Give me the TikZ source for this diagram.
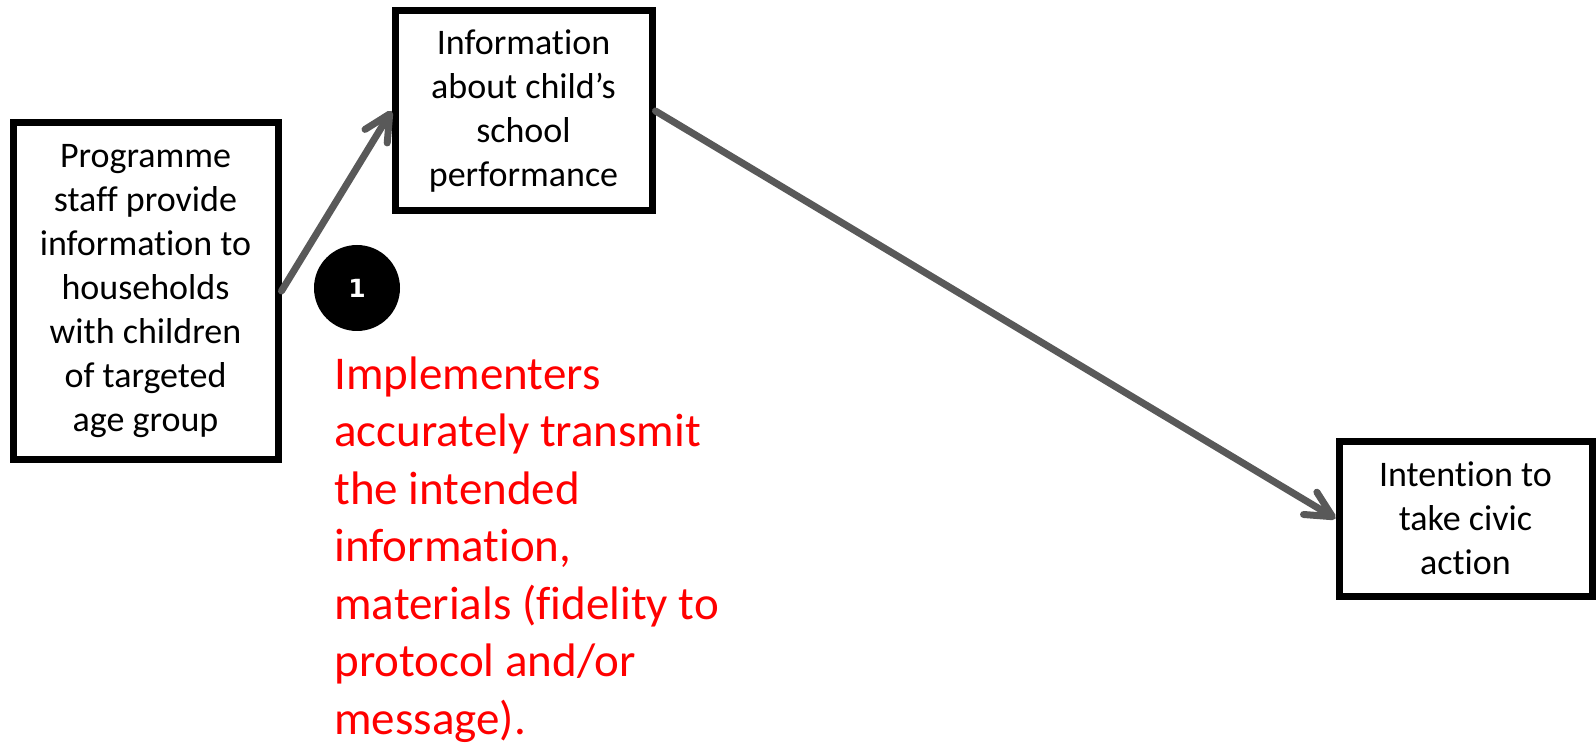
\documentclass[tikz,border=0pt]{standalone}
\usepackage{fontspec}
\setmainfont{Carlito}[Ligatures={NoCommon,NoRequired,NoContextual}]
\newfontfamily\numfont{DejaVu Sans}
\usetikzlibrary{arrows.meta}
\definecolor{arrowgray}{HTML}{595959}

\begin{document}
\begin{tikzpicture}[x=0.5pt,y=-0.5pt,
  box/.style={draw=black,line width=3.5pt,fill=white,align=center,inner sep=0pt,
    font=\fontsize{18}{22}\selectfont},
  link/.style={draw=arrowgray,line width=3.5pt,line cap=round,
    -{Straight Barb[length=13pt,width=13pt,line width=3.5pt,round]}}]
\useasboundingbox (0,0) rectangle (1596,743);

\node[box,minimum width=132.5pt,minimum height=168pt](staff) at (145.5,291)
  {Programme\\staff provide\\information to\\households\\with children\\of targeted\\age group};
\node[box,minimum width=128.5pt,minimum height=100pt](info) at (523.5,111)
  {Information\\about child's\\school\\performance};
\node[box,minimum width=126.5pt,minimum height=77.5pt](civic) at (1465.5,518.5)
  {Intention to\\take civic\\action};

\draw[link] (staff.east) -- (info.west);
\draw[link] (info.east) -- (civic.west);

\node[circle,fill=black,inner sep=0pt,minimum size=43pt,text=white,
  font=\numfont\bfseries\fontsize{12.5}{14}\selectfont](one) at (357,288) {1};

\node[anchor=north west,align=left,text=red,inner sep=0pt,
  font=\fontsize{23.5}{28.75}\selectfont](fidelity) at (334,356)
  {Implementers\\accurately transmit\\the intended\\information,\\materials (fidelity to\\protocol and/or\\message).};
\end{tikzpicture}
\end{document}
